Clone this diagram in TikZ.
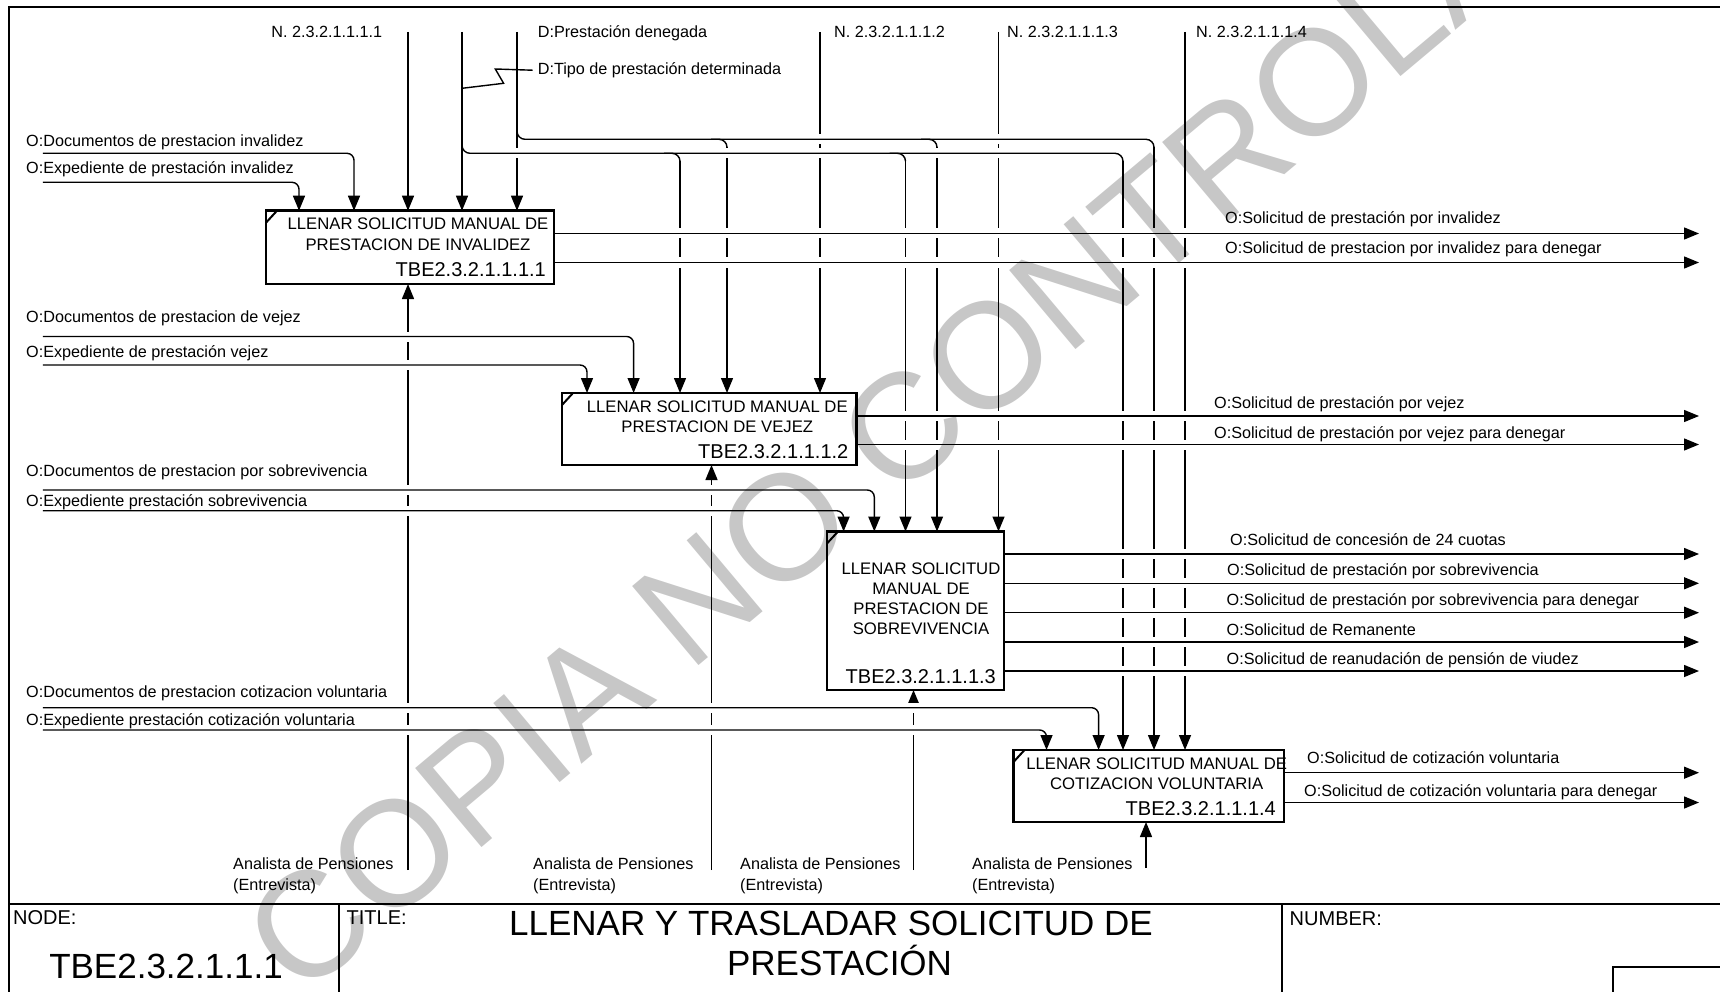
\documentclass[tikz,border=0pt]{standalone}
\usepackage{fontspec}
\setmainfont{Liberation Sans}
\usetikzlibrary{arrows.meta,calc}
\newcommand\myLbl{\fontsize{16.2}{19}\selectfont}
\newcommand\myBox{\fontsize{16.7}{20.3}\selectfont}
\newcommand\myId{\fontsize{20}{23}\selectfont}
\newcommand\myHdr{\fontsize{20}{24}\selectfont}
\newcommand\myBig{\fontsize{35}{40}\selectfont}
\newcommand\myWm{\fontsize{150}{150}\selectfont}
\begin{document}
\begin{tikzpicture}[x=1pt,y=-1pt,
  conn/.style={line width=1.4pt, line cap=butt},
  arr/.style={conn, -{Triangle[length=15pt,width=12pt]}},
  gap/.style={white, line width=10pt},
  boxshape/.style={draw=none, inner sep=0pt, outer sep=0pt, anchor=north west},
  boxline/.style={line width=2.8pt},
  lbl/.style={anchor=base west, inner sep=0pt, font=\myLbl},
  btxt/.style={anchor=base, inner sep=0pt, font=\myBox},
  bid/.style={anchor=base east, inner sep=0pt, font=\myId},
  frame/.style={line width=2pt}
]
\useasboundingbox (0,0) rectangle (1720,992);
\clip (0,0) rectangle (1720,992);

% ---------- boxes (shapes only, borders drawn at the end)
\node[boxshape, minimum width=288pt, minimum height=73.3pt] (b1) at (266,210.7) {};
\node[boxshape, minimum width=294.5pt, minimum height=72pt] (b2) at (562,393) {};
\node[boxshape, minimum width=177pt, minimum height=158.5pt] (b3) at (827,531.5) {};
\node[boxshape, minimum width=270.5pt, minimum height=72pt] (b4) at (1013.5,750) {};

% ---------- frame
\draw[frame] (1760,7) -- (9,7) -- (9,1050);
\draw[frame] (9,903.5) -- (1760,903.5);
\draw[frame] (339,903.5) -- (339,1050);
\draw[frame] (1282,903.5) -- (1282,1050);
\draw[line width=1.4pt] (1613,1050) -- (1613,967) -- (1760,967);

% ---------- coordinates
\coordinate (tN1) at (408,32);
\coordinate (tDT) at (462,32);
\coordinate (tDP) at (517,32);
\coordinate (tN2) at (820,32);
\coordinate (tN3) at (998.5,32);
\coordinate (tN4) at (1185,32);
\coordinate (dt2) at (680,161.3);
\coordinate (dt3) at (905.5,161.3);
\coordinate (dt4) at (1123,161.3);
\coordinate (dp2) at (727,147.3);
\coordinate (dp3) at (937,147.3);
\coordinate (dp4) at (1154,147.3);
\coordinate (m1) at (408,870);
\coordinate (m2) at (711.5,870);
\coordinate (m3) at (913.5,870);
\coordinate (m4) at (1146,868);
\coordinate (dpA) at (517,131.3);
\coordinate (dpH) at (1154,139.3);
\coordinate (dtA) at (462,145.3);
\coordinate (dtH) at (1123,153.3);
\coordinate (dtZ) at (462,88.3);
% inputs
\coordinate (i1d) at (42.8,153.3);
\coordinate (i1e) at (42.8,182.3);
\coordinate (i2d) at (42.8,336.5);
\coordinate (i2e) at (42.8,365);
\coordinate (i3d) at (42.8,490);
\coordinate (i3e) at (42.8,510.7);
\coordinate (i4d) at (42.8,707.7);
\coordinate (i4e) at (42.8,730);
\coordinate (b1d) at ($(b1.north west)+(88,0)$);
\coordinate (b1e) at ($(b1.north west)+(33,0)$);
\coordinate (b2d) at ($(b2.north west)+(71.6,0)$);
\coordinate (b2e) at ($(b2.north west)+(25,0)$);
\coordinate (b3d) at ($(b3.north west)+(47.3,0)$);
\coordinate (b3e) at ($(b3.north west)+(16.6,0)$);
\coordinate (b4d) at ($(b4.north west)+(85.1,0)$);
\coordinate (b4e) at ($(b4.north west)+(33,0)$);
% outputs
\coordinate (o11) at (1699,233.5);
\coordinate (o12) at (1699,262.5);
\coordinate (o21) at (1699,416);
\coordinate (o22) at (1699,444.5);
\coordinate (o31) at (1699,554);
\coordinate (o32) at (1699,583.3);
\coordinate (o33) at (1699,612.7);
\coordinate (o34) at (1699,642);
\coordinate (o35) at (1699,671);
\coordinate (o41) at (1699,772.7);
\coordinate (o42) at (1699,802.5);

% ---------- layer A: vertical connectors
\draw[arr] (tN1) -- (tN1 |- b1.north);
\draw[arr] (tDT) -- (tDT |- b1.north);
\draw[arr] (tDP) -- (tDP |- b1.north);
\draw[arr] (tN2) -- (tN2 |- b2.north);
\draw[arr] (tN3) -- (tN3 |- b3.north);
\draw[arr] (tN4) -- (tN4 |- b4.north);
\draw[arr] (dt2) -- (dt2 |- b2.north);
\draw[arr] (dt3) -- (dt3 |- b3.north);
\draw[arr] (dt4) -- (dt4 |- b4.north);
\draw[arr] (dp2) -- (dp2 |- b2.north);
\draw[arr] (dp3) -- (dp3 |- b3.north);
\draw[arr] (dp4) -- (dp4 |- b4.north);
\draw[arr] (m1) -- (m1 |- b1.south);
\draw[arr] (m2) -- (m2 |- b2.south);
\draw[arr] (m3) -- (m3 |- b3.south);
\draw[arr] (m4) -- (m4 |- b4.south);

% ---------- layer B: crossing gaps
\draw[gap] (525,139.3) -- (1146,139.3);
\draw[gap] (470,153.3) -- (1115,153.3);
\foreach \i/\b in {i1d/b1d,i1e/b1e,i2d/b2d,i2e/b2e,i3d/b3d,i3e/b3e,i4d/b4d,i4e/b4e}
  \draw[gap] (\i) -- ($(\b |- \i)+(-8,0)$);
\foreach \o/\b in {o11/b1,o12/b1,o21/b2,o22/b2,o31/b3,o32/b3,o33/b3,o34/b3,o35/b3,o41/b4,o42/b4}
  \draw[gap] ($(\o -| \b.east)+(2,0)$) -- (\o);

% ---------- layer C: horizontal connectors
\draw[conn, rounded corners=8pt] (dpA) |- (dpH) -- (dp4);
\draw[conn, rounded corners=8pt] ($(dp2)+(-16,-8)$) -| (dp2);
\draw[conn, rounded corners=8pt] ($(dp3)+(-16,-8)$) -| (dp3);
\draw[conn, rounded corners=8pt] (dtA) |- (dtH) -- (dt4);
\draw[conn, rounded corners=8pt] ($(dt2)+(-16,-8)$) -| (dt2);
\draw[conn, rounded corners=8pt] ($(dt3)+(-16,-8)$) -| (dt3);
\foreach \i/\b in {i1d/b1d,i1e/b1e,i2d/b2d,i2e/b2e,i3d/b3d,i3e/b3e,i4d/b4d,i4e/b4e}
  \draw[arr, rounded corners=7pt] (\i) -| (\b);
\foreach \o/\b in {o11/b1,o12/b1,o21/b2,o22/b2,o31/b3,o32/b3,o33/b3,o34/b3,o35/b3,o41/b4,o42/b4}
  \draw[arr] (\o -| \b.east) -- (\o);

% ---------- labels at top
\node[lbl, anchor=base east] (lN1) at (382.3,38) {N. 2.3.2.1.1.1.1};
\node[lbl] (lDP) at (537.6,38) {D:Prestación denegada};
\node[lbl] (lDT) at (537.6,74.5) {D:Tipo de prestación determinada};
\node[lbl] (lN2) at (834,38) {N. 2.3.2.1.1.1.2};
\node[lbl] (lN3) at (1007,38) {N. 2.3.2.1.1.1.3};
\node[lbl] (lN4) at (1196,38) {N. 2.3.2.1.1.1.4};
\draw[conn] (dtZ) -- (503.6,83.3) -- (495.3,69) -- ([xshift=-5pt]lDT.west);

% ---------- input labels
\node[lbl] (l1d) at (26,147) {O:Documentos de prestacion invalidez};
\node[lbl] (l1e) at (26,173.5) {O:Expediente de prestación invalidez};
\node[lbl] (l2d) at (26,322.5) {O:Documentos de prestacion de vejez};
\node[lbl] (l2e) at (26,357.5) {O:Expediente de prestación vejez};
\node[lbl] (l3d) at (26,476.6) {O:Documentos de prestacion por sobrevivencia};
\node[lbl] (l3e) at (26,506) {O:Expediente prestación sobrevivencia};
\node[lbl] (l4d) at (26,697) {O:Documentos de prestacion cotizacion voluntaria};
\node[lbl] (l4e) at (26,725.6) {O:Expediente prestación cotización voluntaria};

% ---------- output labels
\node[lbl] (lo11) at (1225,223.2) {O:Solicitud de prestación por invalidez};
\node[lbl] (lo12) at (1225,254) {O:Solicitud de prestacion por invalidez para denegar};
\node[lbl] (lo21) at (1214,408.6) {O:Solicitud de prestación por vejez};
\node[lbl] (lo22) at (1214,438.2) {O:Solicitud de prestación por vejez para denegar};
\node[lbl] (lo31) at (1230,545) {O:Solicitud de concesión de 24 cuotas};
\node[lbl] (lo32) at (1227,575.5) {O:Solicitud de prestación por sobrevivencia};
\node[lbl] (lo33) at (1226.5,605) {O:Solicitud de prestación por sobrevivencia para denegar};
\node[lbl] (lo34) at (1226.5,635) {O:Solicitud de Remanente};
\node[lbl] (lo35) at (1226.5,664.5) {O:Solicitud de reanudación de pensión de viudez};
\node[lbl] (lo41) at (1307,763.5) {O:Solicitud de cotización voluntaria};
\node[lbl] (lo42) at (1304,796) {O:Solicitud de cotización voluntaria para denegar};

% ---------- mechanism labels
\foreach \n/\x in {1/233,2/533,3/740,4/972}{
  \node[lbl] (ma\n) at (\x,869) {Analista de Pensiones};
  \node[lbl] (mb\n) at (\x,890) {(Entrevista)};
}

% ---------- box texts
\node[btxt] (t1a) at (418,229.7) {LLENAR SOLICITUD MANUAL DE};
\node[btxt] (t1b) at (418,250.2) {PRESTACION DE INVALIDEZ};
\node[bid] (t1c) at (546,276.5) {TBE2.3.2.1.1.1.1};
\node[btxt] (t2a) at (717.3,412) {LLENAR SOLICITUD MANUAL DE};
\node[btxt] (t2b) at (717.3,432.5) {PRESTACION DE VEJEZ};
\node[bid] (t2c) at (848.5,458.8) {TBE2.3.2.1.1.1.2};
\node[btxt] (t3a) at (921,574) {LLENAR SOLICITUD};
\node[btxt] (t3b) at (921,594) {MANUAL DE};
\node[btxt] (t3c) at (921,614.3) {PRESTACION DE};
\node[btxt] (t3d) at (921,634.6) {SOBREVIVENCIA};
\node[bid] (t3e) at (996,683.8) {TBE2.3.2.1.1.1.3};
\node[btxt] (t4a) at (1156.7,769) {LLENAR SOLICITUD MANUAL DE};
\node[btxt] (t4b) at (1156.7,789.5) {COTIZACION VOLUNTARIA};
\node[bid] (t4c) at (1276,815.8) {TBE2.3.2.1.1.1.4};

% ---------- box borders and corner marks
\foreach \b in {b1,b2,b3,b4}{
  \draw[boxline] (\b.north west) rectangle (\b.south east);
  \draw[line width=2pt] ($(\b.north west)+(0,12)$) -- ($(\b.north west)+(11,0)$);
}

% ---------- title block
\node[anchor=base west, inner sep=0pt, font=\myHdr] (hNode) at (13,924) {NODE:};
\node[anchor=base west, inner sep=0pt, font=\myHdr] (hTitle) at (346.5,924) {TITLE:};
\node[anchor=base west, inner sep=0pt, font=\myHdr] (hNum) at (1289.5,925) {NUMBER:};
\node[anchor=base, inner sep=0pt, font=\myBig] (title1) at (831,935) {LLENAR Y TRASLADAR SOLICITUD DE};
\node[anchor=base, inner sep=0pt, font=\myBig] (title2) at (839.5,975) {PRESTACIÓN};
\node[anchor=base, inner sep=0pt, font=\myBig] (nodeid) at (166,978) {TBE2.3.2.1.1.1};

% ---------- watermark
\node[rotate=40, inner sep=0pt, text=black, text opacity=0.22, font=\myWm] (wm) at (963,377) {COPIA NO CONTROLADA};
\end{tikzpicture}
\end{document}
